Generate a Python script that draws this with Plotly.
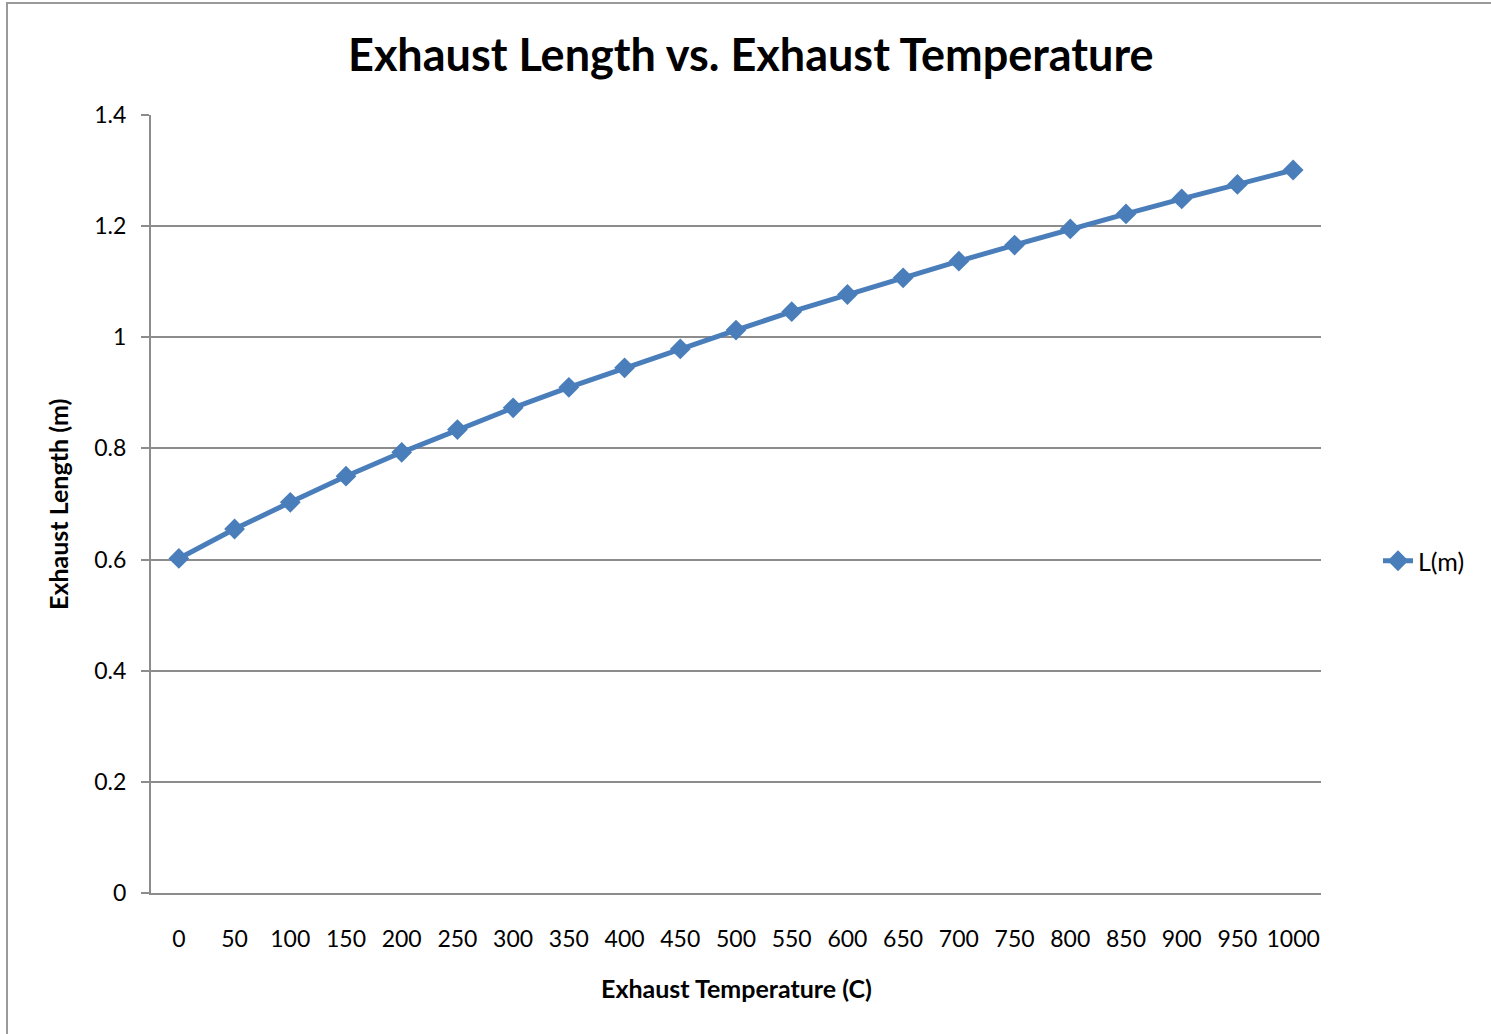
import plotly.graph_objects as go

temperatures = [0, 50, 100, 150, 200, 250, 300, 350, 400, 450, 500,
                550, 600, 650, 700, 750, 800, 850, 900, 950, 1000]
lengths = [0.602, 0.655, 0.703, 0.750, 0.793, 0.834, 0.873, 0.910, 0.945, 0.979, 1.013,
           1.046, 1.077, 1.107, 1.137, 1.166, 1.195, 1.222, 1.249, 1.275, 1.301]
y_ticks = [0, 0.2, 0.4, 0.6, 0.8, 1, 1.2, 1.4]
y_tick_text = ["0", "0.2", "0.4", "0.6", "0.8", "1", "1.2", "1.4"]

W, H = 1491, 1034
L, R, T, B = 151, 170, 115, 141
pw, ph = W - L - R, H - T - B

def px_x(x):
    return (x - L) / pw

def px_y(y):
    return (H - B - y) / ph

FONT = "Lato, Open Sans, sans-serif"
BLUE = "#4A7EBB"
GRID = "#8C8C8C"

fig = go.Figure()
fig.add_trace(go.Scatter(
    x=temperatures, y=lengths, mode="lines+markers", name="L(m)",
    line=dict(color=BLUE, width=5),
    marker=dict(symbol="diamond", size=16, color=BLUE),
))

fig.update_layout(
    width=W, height=H,
    margin=dict(l=L, r=R, t=T, b=B),
    paper_bgcolor="white", plot_bgcolor="white",
    font=dict(family=FONT, size=23, color="#000"),
    showlegend=True,
    legend=dict(x=px_x(1378), y=px_y(561), xanchor="left", yanchor="middle",
                font=dict(family=FONT, size=25, color="#000"),
                itemwidth=30, bgcolor="rgba(0,0,0,0)"),
    xaxis=dict(range=[-25, 1025], tickmode="array", tickvals=temperatures,
               ticktext=[str(t) for t in temperatures],
               showgrid=False, zeroline=False, showline=True, linecolor=GRID, linewidth=2,
               ticks="", ticklabelstandoff=24,
               tickfont=dict(family=FONT, size=23, color="#000")),
    yaxis=dict(range=[0, 1.4], tickmode="array", tickvals=y_ticks, ticktext=y_tick_text,
               showgrid=True, gridcolor=GRID, gridwidth=1.5, zeroline=False,
               showline=True, linecolor=GRID, linewidth=2,
               ticks="outside", ticklen=8, tickcolor=GRID, tickwidth=2,
               ticklabelstandoff=10,
               tickfont=dict(family=FONT, size=23, color="#000")),
    annotations=[
        dict(text="<b>Exhaust Length vs. Exhaust Temperature</b>", xref="paper", yref="paper",
             x=px_x(751), y=px_y(54), xanchor="center", yanchor="middle", showarrow=False,
             font=dict(family=FONT, size=45, color="#000")),
        dict(text="<b>Exhaust Temperature (C)</b>", xref="paper", yref="paper",
             x=px_x(736), y=px_y(988), xanchor="center", yanchor="middle", showarrow=False,
             font=dict(family=FONT, size=25, color="#000")),
        dict(text="<b>Exhaust Length (m)</b>", xref="paper", yref="paper",
             x=px_x(58), y=px_y(505), xanchor="center", yanchor="middle", showarrow=False,
             textangle=-90, font=dict(family=FONT, size=25, color="#000")),
    ],
    shapes=[
        dict(type="rect", xref="paper", yref="paper",
             x0=px_x(7), x1=px_x(1520), y0=px_y(3), y1=px_y(1060),
             line=dict(color="#9A9A9A", width=2), fillcolor="rgba(0,0,0,0)", layer="below"),
    ],
)

fig.write_html("out.html")
